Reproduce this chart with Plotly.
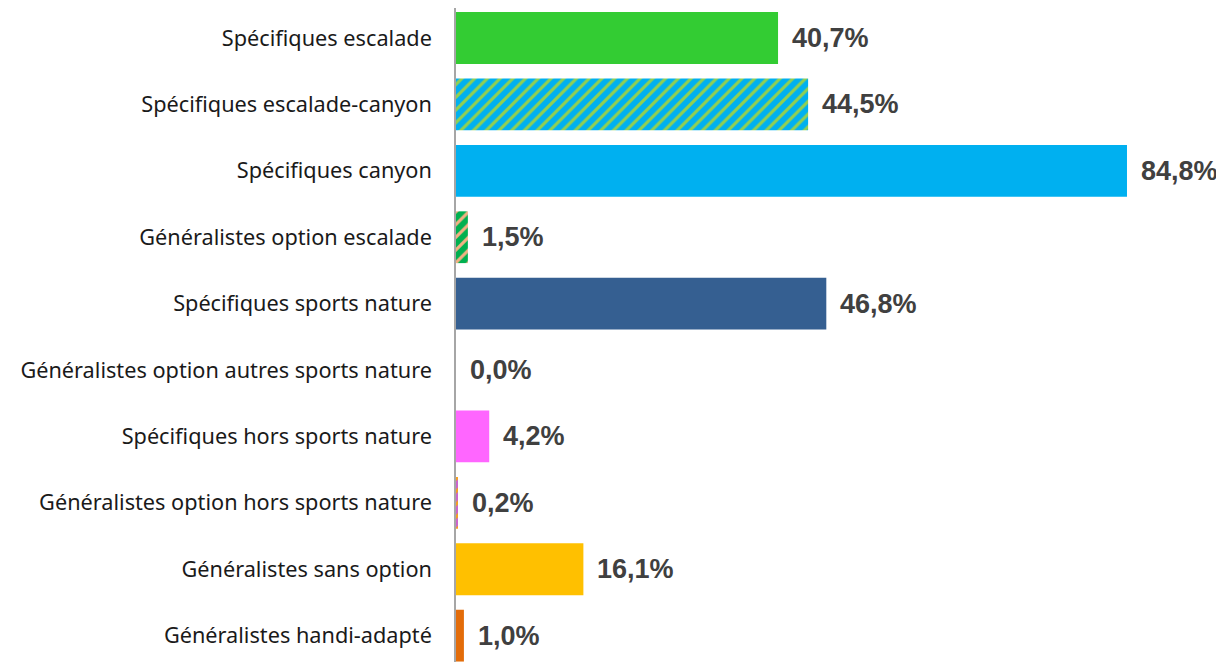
import plotly.graph_objects as go

categories = [
    "Spécifiques escalade",
    "Spécifiques escalade-canyon",
    "Spécifiques canyon",
    "Généralistes option escalade",
    "Spécifiques sports nature",
    "Généralistes option autres sports nature",
    "Spécifiques hors sports nature",
    "Généralistes option hors sports nature",
    "Généralistes sans option",
    "Généralistes handi-adapté",
]
values = [40.7, 44.5, 84.8, 1.5, 46.8, 0.0, 4.2, 0.2, 16.1, 1.0]
labels = ["40,7%", "44,5%", "84,8%", "1,5%", "46,8%", "0,0%", "4,2%", "0,2%", "16,1%", "1,0%"]

# bar fill (background) and stripe colour (None = solid)
bar_colors = ["#33CC33", "#00B0F0", "#00B0F0", "#00B050", "#355F91",
              "#FFFFFF", "#FF66FF", "#CC66CC", "#FFC000", "#E36C09"]
stripe_colors = [None, "#92D050", None, "#F4B183", None,
                 None, None, "#F4A020", None, None]

fig = go.Figure()

for cat, val, bg, fg in zip(categories, values, bar_colors, stripe_colors):
    if fg:
        pattern = dict(shape="/", bgcolor=bg, fgcolor=fg, size=9, solidity=0.35,
                       fillmode="replace")
    else:
        pattern = dict(shape="")
    fig.add_trace(go.Bar(
        x=[val], y=[cat], orientation="h",
        marker=dict(color=bg, line=dict(width=0), pattern=pattern),
        width=0.78,
        showlegend=False,
        hoverinfo="skip",
    ))

for cat, val, lab in zip(categories, values, labels):
    fig.add_annotation(
        x=val, y=cat, text=f"<b>{lab}</b>",
        xanchor="left", yanchor="middle", xshift=12,
        showarrow=False,
        font=dict(family="Liberation Sans", size=27, color="#404040"),
    )

fig.update_xaxes(range=[0, 97.06], visible=False, showgrid=False, zeroline=False)
fig.update_yaxes(
    categoryorder="array", categoryarray=categories,
    range=[9.397, -0.452],
    showline=True, linecolor="#A6A6A6", linewidth=1.5,
    showgrid=False, zeroline=False,
    ticks="", ticklabelstandoff=18,
    tickfont=dict(family="Noto Sans", size=21.7, color="#1a1a1a"),
    automargin=False,
)

fig.update_layout(
    width=1216, height=654,
    barmode="overlay",
    plot_bgcolor="white", paper_bgcolor="white",
    margin=dict(l=448, r=0, t=0, b=0),
)

fig.write_html("out.html")
